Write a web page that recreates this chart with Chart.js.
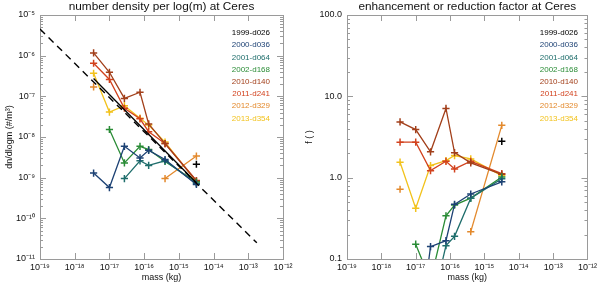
<!DOCTYPE html>
<html><head><meta charset="utf-8">
<script src="https://cdn.jsdelivr.net/npm/chart.js@4/dist/chart.umd.min.js"></script>
<style>
html,body{margin:0;padding:0;background:#fff;width:600px;height:285px;overflow:hidden}
canvas{position:absolute;top:0}
#c1{left:0}#c2{left:300px}
</style></head>
<body>
<canvas id="c1" width="300" height="285"></canvas>
<canvas id="c2" width="300" height="285"></canvas>
<script>
// ---------- data ----------
const massBins = [3.5e-18, 1.0e-17, 2.7e-17, 7.6e-17, 1.35e-16, 4.0e-16, 3.2e-15];
const seriesNames = ['1999-d026','2000-d036','2001-d064','2002-d168','2010-d140','2011-d241','2012-d329','2013-d354'];
const seriesColors = ['#000000','#1d4274','#1f6e6c','#2a8c36','#a23f1a','#d2421e','#e3892c','#f2c21c'];

// number density per log(m) (#/m^3)
const density1999 = [null, null, null, null, null, null, 2.14e-9];
const density2000 = [1.3e-9, 5.7e-10, 5.9e-9, 3.05e-9, 4.7e-9, 2.8e-9, 6.8e-10];
const density2001 = [null, null, 9.5e-10, 2.6e-9, 2.0e-9, 2.6e-9, 7.2e-10];
const density2002 = [null, 1.53e-8, 2.3e-9, 5.9e-9, 4.9e-9, 2.5e-9, 7.8e-10];
const density2010 = [1.17e-6, 3.9e-7, 8.9e-8, 1.26e-7, 2.1e-8, 6.9e-9, 8.3e-10];
const density2011 = [6.5e-7, 2.6e-7, 5.1e-8, 2.8e-8, 1.35e-8, 6.9e-9, 8.5e-10];
const density2012 = [1.7e-7, null, null, null, null, 9.5e-10, 3.4e-9];
const density2013 = [3.7e-7, 4.1e-8, 5.9e-8, 2.9e-8, 1.96e-8, 7.5e-9, 8.0e-10];

// enhancement / reduction factor
const factor1999 = [null, null, null, null, null, null, 2.8];
const factor2000 = [0.0055, 0.0059, 0.142, 0.168, 0.47, 0.63, 0.89];
const factor2001 = [null, null, 0.0225, 0.146, 0.19, 0.56, 0.97];
const factor2002 = [null, 0.152, 0.054, 0.34, 0.46, 0.56, 1.02];
const factor2010 = [4.85, 3.9, 2.08, 7.1, 2.03, 1.52, 1.1];
const factor2011 = [2.73, 2.73, 1.22, 1.59, 1.28, 1.59, 1.12];
const factor2012 = [0.72, null, null, null, null, 0.217, 4.4];
const factor2013 = [1.55, 0.42, 1.41, 1.62, 1.87, 1.70, 1.06];

// model power law (dashed) and its solid part
const modelMass = [1e-19, 1.76e-13];
const modelDensity = [4.5e-6, 2.5e-11];
const modelSolidMass = [3.5e-18, 3.2e-15];
const modelSolidDensity = [2.75e-7, 7.5e-10];

// ticks
const massTicks = [1e-19, 1e-18, 1e-17, 1e-16, 1e-15, 1e-14, 1e-13, 1e-12];
const massTickLabels = ['10⁻¹⁹','10⁻¹⁸','10⁻¹⁷','10⁻¹⁶','10⁻¹⁵','10⁻¹⁴','10⁻¹³','10⁻¹²'];
const densityTicks = [1e-11, 1e-10, 1e-9, 1e-8, 1e-7, 1e-6, 1e-5];
const densityTickLabels = ['10⁻¹¹','10⁻¹⁰','10⁻⁹','10⁻⁸','10⁻⁷','10⁻⁶','10⁻⁵'];
const factorTicks = [0.1, 1, 10, 100];
const factorTickLabels = ['0.1','1.0','10.0','100.0'];

const densitySeries = [density1999, density2000, density2001, density2002, density2010, density2011, density2012, density2013];
const factorSeries = [factor1999, factor2000, factor2001, factor2002, factor2010, factor2011, factor2012, factor2013];

// ---------- helpers ----------
Chart.defaults.font.family = "'Liberation Sans', Arial, sans-serif";
Chart.defaults.color = '#111';
const FRAME = '#9a9a9a';

function pts(xs, ys){ return xs.map((x,i)=>({x:x, y:ys[i]})); }

function seriesDatasets(values){
  return values.map((arr,i)=>({
    label: seriesNames[i],
    data: pts(massBins, arr),
    borderColor: seriesColors[i],
    backgroundColor: seriesColors[i],
    borderWidth: 1.3,
    pointStyle: 'cross',
    pointRadius: 3.6,
    pointBorderWidth: 1.5,
    spanGaps: false,
    tension: 0
  }));
}

const framePlugin = {
  id: 'frame',
  beforeDatasetsDraw(chart){
    const {ctx, chartArea: a, scales} = chart;
    ctx.save();
    ctx.strokeStyle = FRAME; ctx.lineWidth = 1;
    ctx.strokeRect(Math.round(a.left)+0.5, Math.round(a.top)+0.5, Math.round(a.right-a.left), Math.round(a.bottom-a.top));
    const xs = scales.x;
    ctx.beginPath();
    massTicks.forEach(v=>{
      const px = Math.round(xs.getPixelForValue(v))+0.5;
      ctx.moveTo(px, a.bottom); ctx.lineTo(px, a.bottom-6);
      ctx.moveTo(px, a.top); ctx.lineTo(px, a.top+6);
    });
    const ys = scales.y;
    const lo = Math.log10(ys.min), hi = Math.log10(ys.max);
    for (let e = Math.floor(lo); e < hi; e++){
      for (let k = 1; k <= 9; k++){
        const v = k*Math.pow(10,e);
        if (v < ys.min*0.999 || v > ys.max*1.001) continue;
        const py = Math.round(ys.getPixelForValue(v))+0.5;
        const len = k===1 ? 6 : 3;
        ctx.moveTo(a.left, py); ctx.lineTo(a.left+len, py);
        ctx.moveTo(a.right, py); ctx.lineTo(a.right-len, py);
      }
    }
    ctx.stroke();
    ctx.restore();
  },
  afterDraw(chart, args, opts){
    const {ctx, chartArea: a} = chart;
    ctx.save();
    ctx.fillStyle = '#111';
    ctx.font = "11.8px 'Liberation Sans', Arial, sans-serif";
    ctx.textAlign = 'center'; ctx.textBaseline = 'middle';
    ctx.fillText(opts.title, (a.left+a.right)/2, 6.5);
    ctx.font = "8px 'Liberation Sans', Arial, sans-serif";
    ctx.textAlign = 'right';
    seriesNames.forEach((n,i)=>{
      ctx.fillStyle = seriesColors[i];
      ctx.fillText(n, opts.legendX, 33 + i*12.2);
    });
    ctx.restore();
  }
};

function xScale(){
  return {
    type: 'logarithmic', position: 'bottom', min: 1e-19, max: 1e-12,
    grid: {display: false, drawTicks: false}, border: {display: false},
    afterBuildTicks: s => { s.ticks = massTicks.map(v=>({value:v})); },
    afterFit: s => { s.height = 26; },
    ticks: {autoSkip: false, maxRotation: 0, padding: 3, font: {size: 9}, color: '#111',
      callback: (v, i) => massTickLabels[i]},
    title: {display: true, text: 'mass (kg)', font: {size: 9}, color: '#111', padding: {top: 0, bottom: 2}}
  };
}

function yScale(min, max, tv, tl, width, title){
  return {
    type: 'logarithmic', position: 'left', min: min, max: max,
    grid: {display: false, drawTicks: false}, border: {display: false},
    afterBuildTicks: s => { s.ticks = tv.map(v=>({value:v})); },
    afterFit: s => { s.width = width; },
    ticks: {autoSkip: false, padding: 5, font: {size: 9}, color: '#111',
      callback: (v, i) => tl[i]},
    title: {display: true, text: title, font: {size: 9}, color: '#111', padding: {top: 4, bottom: 0}}
  };
}

const common = {
  responsive: false, animation: false, devicePixelRatio: 1,
  plugins: {legend: {display: false}, tooltip: {enabled: false}}
};

// ---------- left chart ----------
new Chart(document.getElementById('c1'), {
  type: 'line',
  data: {datasets: [
    {label: 'model', data: pts(modelMass, modelDensity), borderColor: '#000', borderWidth: 1.4,
     borderDash: [7, 5], pointRadius: 0},
    {label: 'model range', data: pts(modelSolidMass, modelSolidDensity), borderColor: '#000', borderWidth: 1.3, pointRadius: 0},
    ...seriesDatasets(densitySeries)
  ]},
  options: Object.assign({}, common, {
    layout: {padding: {top: 15, right: 17, left: 0, bottom: 0}},
    scales: {x: xScale(), y: yScale(1e-11, 1e-5, densityTicks, densityTickLabels, 40, 'dn/dlogm (#/m³)')},
    plugins: Object.assign({}, common.plugins, {frame: {title: 'number density per log(m) at Ceres', legendX: 270}})
  }),
  plugins: [framePlugin]
});

// ---------- right chart ----------
new Chart(document.getElementById('c2'), {
  type: 'line',
  data: {datasets: seriesDatasets(factorSeries)},
  options: Object.assign({}, common, {
    layout: {padding: {top: 15, right: 11, left: 0, bottom: 0}},
    scales: {x: xScale(), y: yScale(0.1, 100, factorTicks, factorTickLabels, 47, 'f ( )')},
    plugins: Object.assign({}, common.plugins, {frame: {title: 'enhancement or reduction factor at Ceres', legendX: 278}})
  }),
  plugins: [framePlugin]
});
</script>
</body></html>
